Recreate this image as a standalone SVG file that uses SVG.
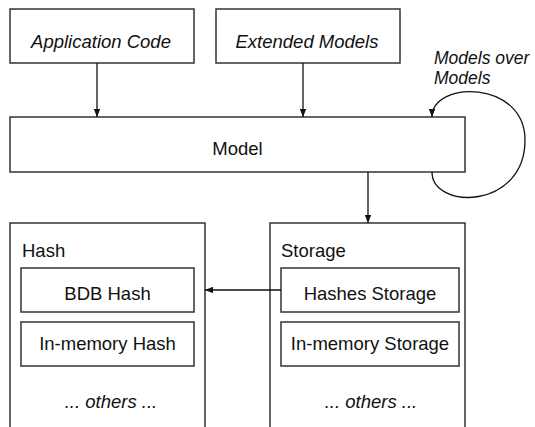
<svg xmlns="http://www.w3.org/2000/svg" width="535" height="427" viewBox="0 0 535 427">
<defs>
<marker id="ah" viewBox="0 0 10 8" refX="10" refY="4" markerWidth="8" markerHeight="6.4" markerUnits="userSpaceOnUse" orient="auto">
<path d="M0,0 L10,4 L0,8 z" fill="#111"/>
</marker>
<style>
.box{fill:#fff;stroke:#333;stroke-width:1.5}
.t{font-family:"Liberation Sans",Arial,sans-serif;font-size:18.5px;fill:#111}
.i{font-style:italic}
.c{text-anchor:middle}
.s{font-size:17.5px}
.e{fill:none;stroke:#111;stroke-width:1.3}
</style>
</defs>
<rect width="535" height="427" fill="#fff"/>
<g id="app-code">
<rect class="box" x="10" y="9" width="184" height="54"/>
<text class="t i c" x="101" y="48">Application Code</text>
</g>
<g id="extended-models">
<rect class="box" x="216" y="9" width="184" height="54"/>
<text class="t i c" x="307" y="48">Extended Models</text>
</g>
<g id="model">
<rect class="box" x="10" y="117" width="455" height="55"/>
<text class="t c" x="237.5" y="155">Model</text>
</g>
<g id="models-over-models-label">
<text class="t i s" x="434" y="64">Models over</text>
<text class="t i s" x="434" y="83.5">Models</text>
</g>
<g id="hash">
<rect class="box" x="10" y="223" width="195" height="220"/>
<text class="t" x="22" y="257">Hash</text>
<g id="bdb-hash">
<rect class="box" x="21" y="268" width="173" height="44"/>
<text class="t c" x="107.5" y="300">BDB Hash</text>
</g>
<g id="inmemory-hash">
<rect class="box" x="21" y="322" width="173" height="44"/>
<text class="t c" x="107.5" y="350">In-memory Hash</text>
</g>
<text class="t i c" x="111" y="408">... others ...</text>
</g>
<g id="storage">
<rect class="box" x="270" y="223" width="195" height="220"/>
<text class="t" x="281" y="257">Storage</text>
<g id="hashes-storage">
<rect class="box" x="281" y="268" width="178" height="44"/>
<text class="t c" x="370" y="300">Hashes Storage</text>
</g>
<g id="inmemory-storage">
<rect class="box" x="281" y="322" width="178" height="44"/>
<text class="t c" x="370" y="350">In-memory Storage</text>
</g>
<text class="t i c" x="371" y="408">... others ...</text>
</g>
<g id="connectors">
<line class="e" x1="97" y1="63" x2="97" y2="117" marker-end="url(#ah)"/>
<line class="e" x1="303" y1="63" x2="303" y2="117" marker-end="url(#ah)"/>
<path class="e" d="M432,172 C432,210 525,210 525,140 C525,80 432,80 432,117" marker-end="url(#ah)"/>
<line class="e" x1="368" y1="172" x2="368" y2="223" marker-end="url(#ah)"/>
<line class="e" x1="281" y1="290" x2="205" y2="290" marker-end="url(#ah)"/>
</g>
</svg>
